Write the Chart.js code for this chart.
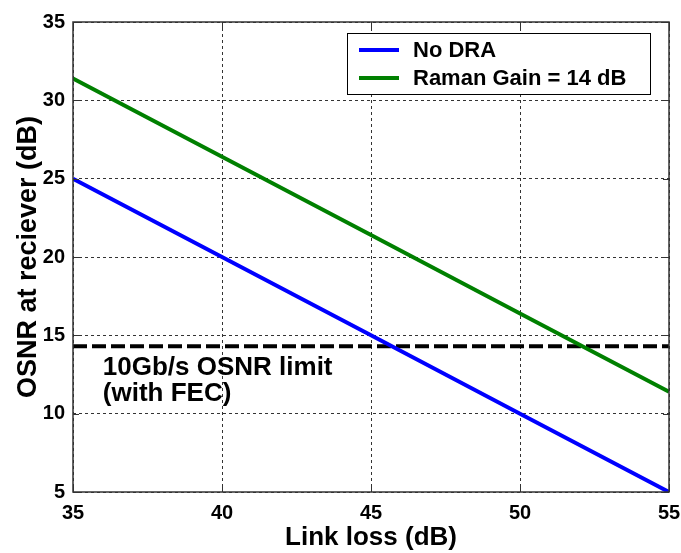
<!DOCTYPE html>
<html lang="en">
<head>
  <meta charset="UTF-8" />
  <title>OSNR vs link loss</title>
  <script src="https://cdn.jsdelivr.net/npm/chart.js"></script>
  <style>
    html, body { margin: 0; padding: 0; background: #fff; overflow: hidden; }
    canvas { display: block; }
  </style>
</head>
<body>
  <canvas id="osnrChart" width="681" height="553"></canvas>

  <script>
    // data
    const linkLoss = [35, 40, 45, 50, 55];
    const noDra = [25, 20, 15, 10, 5];
    const ramanGain14 = [31.4, 26.4, 21.4, 16.4, 11.4];
    const osnrLimit = 14.3;
    const limitLabel = ['10Gb/s OSNR limit', '(with FEC)'];
    const yTicks = [5, 10, 15, 20, 25, 30, 35];
    const xTicks = [35, 40, 45, 50, 55];

    const FONT = 'Liberation Sans, Arial, sans-serif';

    // box round the plot, inward ticks, the in-plot legend and the limit note
    const extras = {
      id: 'extras',
      afterDatasetsDraw(chart) {
        const ctx = chart.ctx;
        const a = chart.chartArea;
        const xs = chart.scales.x, ys = chart.scales.y;

        ctx.save();
        ctx.strokeStyle = '#333';
        ctx.lineWidth = 1;
        ctx.beginPath();
        xTicks.forEach(v => {
          const px = Math.round(xs.getPixelForValue(v)) + 0.5;
          ctx.moveTo(px, a.bottom); ctx.lineTo(px, a.bottom - 6);
          ctx.moveTo(px, a.top); ctx.lineTo(px, a.top + 6);
        });
        yTicks.forEach(v => {
          const py = Math.round(ys.getPixelForValue(v)) + 0.5;
          ctx.moveTo(a.left, py); ctx.lineTo(a.left + 6, py);
          ctx.moveTo(a.right, py); ctx.lineTo(a.right - 6, py);
        });
        ctx.stroke();

        ctx.lineWidth = 1.5;
        ctx.strokeRect(a.left, a.top, a.right - a.left, a.bottom - a.top);

        // note under the limit line
        ctx.fillStyle = '#000';
        ctx.font = 'bold 26px ' + FONT;
        ctx.textBaseline = 'alphabetic';
        ctx.textAlign = 'left';
        const tx = xs.getPixelForValue(36);
        ctx.fillText(limitLabel[0], tx, ys.getPixelForValue(osnrLimit) + 29);
        ctx.fillText(limitLabel[1], tx, ys.getPixelForValue(osnrLimit) + 55);

        // legend
        const lx = a.right - 322, ly = a.top + 11;
        ctx.fillStyle = '#fff';
        ctx.fillRect(lx, ly, 303, 61);
        ctx.strokeStyle = '#000';
        ctx.lineWidth = 1;
        ctx.strokeRect(lx + 0.5, ly + 0.5, 303, 61);
        ctx.font = 'bold 22px ' + FONT;
        ctx.textBaseline = 'middle';
        chart.data.datasets.slice(0, 2).forEach((ds, i) => {
          const y = ly + 17 + i * 28;
          ctx.strokeStyle = ds.borderColor;
          ctx.lineWidth = 4;
          ctx.beginPath();
          ctx.moveTo(lx + 12, y);
          ctx.lineTo(lx + 52, y);
          ctx.stroke();
          ctx.fillStyle = '#000';
          ctx.fillText(ds.label, lx + 66, y + 1);
        });
        ctx.restore();
      }
    };

    const ctx = document.getElementById('osnrChart').getContext('2d');

    new Chart(ctx, {
      type: 'line',
      data: {
        datasets: [
          {
            label: 'No DRA',
            data: linkLoss.map((x, i) => ({ x: x, y: noDra[i] })),
            borderColor: '#0000ff',
            borderWidth: 4,
            pointRadius: 0,
            fill: false
          },
          {
            label: 'Raman Gain = 14 dB',
            data: linkLoss.map((x, i) => ({ x: x, y: ramanGain14[i] })),
            borderColor: '#008000',
            borderWidth: 4,
            pointRadius: 0,
            fill: false
          },
          {
            label: 'limit',
            data: [{ x: linkLoss[0], y: osnrLimit }, { x: linkLoss[linkLoss.length - 1], y: osnrLimit }],
            borderColor: '#000',
            borderWidth: 4,
            borderDash: [14, 5],
            pointRadius: 0,
            fill: false
          }
        ]
      },
      options: {
        responsive: false,
        animation: false,
        events: [],
        layout: {
          autoPadding: false,
          padding: { top: 22, right: 12, bottom: 0, left: 0 }
        },
        plugins: {
          legend: { display: false },
          tooltip: { enabled: false }
        },
        scales: {
          x: {
            type: 'linear',
            min: 35,
            max: 55,
            afterBuildTicks: s => { s.ticks = xTicks.map(v => ({ value: v })); },
            afterFit: s => { s.height = 61; s.paddingLeft = 0; s.paddingRight = 0; },
            grid: { color: '#333', lineWidth: 1, drawTicks: false },
            border: { display: false, dash: [3, 3] },
            ticks: {
              padding: 9,
              color: '#000',
              font: { family: FONT, size: 20, weight: 'bold' }
            },
            title: {
              display: true,
              text: 'Link loss (dB)',
              color: '#000',
              padding: { top: 0, bottom: 0 },
              font: { family: FONT, size: 26, weight: 'bold' }
            }
          },
          y: {
            min: 5,
            max: 35,
            afterBuildTicks: s => { s.ticks = yTicks.map(v => ({ value: v })); },
            afterFit: s => { s.width = 73; s.paddingTop = 0; s.paddingBottom = 0; },
            grid: { color: '#333', lineWidth: 1, drawTicks: false },
            border: { display: false, dash: [3, 3] },
            ticks: {
              padding: 8,
              color: '#000',
              font: { family: FONT, size: 20, weight: 'bold' }
            },
            title: {
              display: true,
              text: 'OSNR at reciever (dB)',
              color: '#000',
              padding: { top: 12, bottom: 0 },
              font: { family: FONT, size: 27, weight: 'bold' }
            }
          }
        }
      },
      plugins: [extras]
    });
  </script>
</body>
</html>
